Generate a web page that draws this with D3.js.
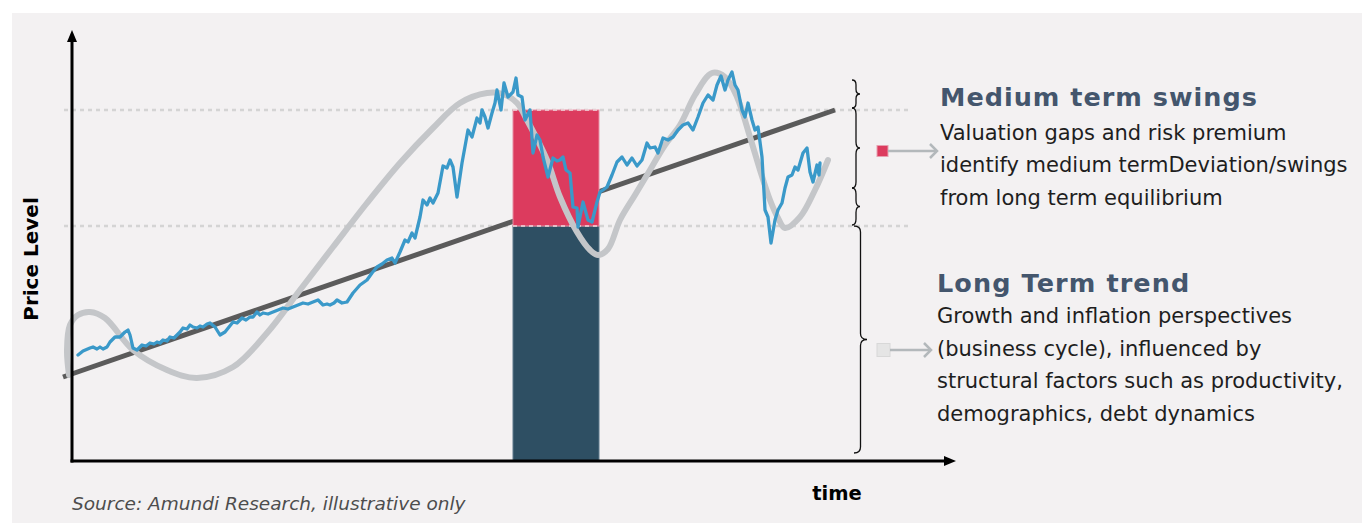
<!DOCTYPE html>
<html>
<head>
<meta charset="utf-8">
<script src="https://cdn.jsdelivr.net/npm/d3@7"></script>
<style>
  html, body { margin: 0; padding: 0; background: #ffffff; }
  svg { display: block; }
</style>
</head>
<body>
<div id="chart"></div>
<script>
// --- data (time / price units measured from the axes origin) ---
const levels = [235, 351];                  // dotted guide levels
const trendLine = [[-9, 84], [763, 351]];   // long term trend
const swingSpan = [441, 527];               // highlighted time window
const cycleCurve = [
  [-3, 86], [-5, 111], [-2, 136], [6, 146], [18, 149], [33, 143], [61, 111], [95, 91],
  [125, 83], [161, 94], [195, 128], [228, 171], [261, 214], [295, 258], [328, 298],
  [361, 333], [388, 358], [415, 368], [431, 367], [445, 358], [455, 341], [475, 301],
  [488, 264], [505, 229], [518, 211], [526, 206], [536, 212], [548, 241], [563, 266],
  [578, 291], [593, 316], [608, 336], [623, 366], [640, 388], [653, 384], [665, 364],
  [678, 324], [688, 291], [698, 261], [706, 243], [713, 233], [728, 244], [743, 271], [756, 301]
];
const priceSeries = [
  [6, 106], [11, 110], [18, 113], [21, 114], [25, 112], [28, 114], [31, 112], [35, 114],
  [38, 119], [43, 124], [48, 124], [53, 129], [56, 131], [58, 126], [61, 113], [65, 111],
  [70, 116], [74, 115], [78, 118], [82, 117], [85, 119], [88, 118], [91, 121], [95, 120],
  [98, 124], [102, 123], [105, 126], [108, 129], [111, 133], [115, 132], [118, 136],
  [121, 134], [125, 133], [128, 135], [131, 134], [135, 137], [138, 138], [143, 134],
  [148, 126], [153, 129], [157, 134], [161, 139], [165, 138], [170, 143], [174, 141],
  [178, 144], [181, 144], [185, 149], [188, 146], [191, 148], [196, 147], [201, 149],
  [206, 151], [211, 153], [216, 152], [221, 154], [226, 156], [231, 158], [236, 157],
  [241, 159], [246, 161], [251, 156], [255, 157], [258, 156], [262, 158], [265, 161],
  [270, 158], [275, 159], [281, 168], [288, 176], [295, 181], [300, 188], [305, 194],
  [310, 197], [315, 201], [320, 203], [323, 198], [328, 209], [333, 221], [336, 219],
  [340, 228], [343, 223], [348, 244], [351, 261], [355, 256], [358, 263], [361, 258],
  [366, 268], [371, 295], [375, 293], [378, 301], [381, 294], [385, 264], [390, 298],
  [396, 331], [400, 324], [405, 343], [408, 338], [410, 351], [413, 344], [416, 333],
  [420, 348], [423, 358], [425, 371], [429, 351], [432, 378], [436, 364], [441, 369],
  [444, 383], [446, 366], [450, 364], [453, 341], [458, 351], [461, 308], [465, 326],
  [468, 321], [471, 304], [476, 284], [481, 303], [485, 300], [488, 301], [491, 304],
  [494, 291], [498, 288], [501, 254], [505, 253], [506, 234], [511, 259], [516, 241],
  [520, 239], [525, 259], [528, 269], [531, 271], [535, 274], [540, 286], [545, 299],
  [550, 304], [555, 296], [560, 303], [565, 295], [570, 301], [575, 318], [578, 313],
  [583, 314], [586, 308], [591, 323], [596, 321], [601, 324], [606, 331], [611, 336],
  [616, 338], [621, 331], [626, 344], [631, 358], [636, 366], [641, 361], [645, 376],
  [649, 385], [653, 371], [656, 381], [660, 389], [663, 376], [666, 371], [670, 351],
  [673, 344], [676, 358], [680, 341], [683, 331], [686, 334], [690, 304], [693, 251],
  [696, 244], [699, 218], [703, 241], [706, 251], [710, 258], [713, 273], [716, 284],
  [720, 286], [723, 294], [726, 291], [731, 308], [735, 313], [738, 289], [741, 279],
  [745, 296], [747, 286], [748, 298]
];
// brace spans in price units: [top, bottom]
const braceSpans = [[381, 353], [353, 273], [273, 236], [235, 8]];

const titles = ["Medium term swings", "Long Term trend"];
const mediumText = ["Valuation gaps and risk premium", "identify medium termDeviation/swings", "from long term equilibrium"];
const longText = ["Growth and inflation perspectives", "(business cycle), influenced by", "structural factors such as productivity,", "demographics, debt dynamics"];

// --- palette ---
const colors = {
  panel: '#f3f1f2',
  axis: '#000000',
  grid: '#d4d4d4',
  trend: '#5b5b5b',
  cycle: '#c4c6c9',
  price: '#3a99c9',
  swing: '#dc3b5e',
  base: '#2e4f63',
  title: '#44566d',
  body: '#1e1e1e',
  arrow: '#b3b8bb'
};

const width = 1362, height = 523;
const svg = d3.select("#chart").append("svg")
  .attr("width", width).attr("height", height);

svg.append("rect").attr("x", 12).attr("y", 13).attr("width", width - 12).attr("height", height - 13)
  .attr("fill", colors.panel);

const x = d3.scaleLinear().domain([0, 883]).range([72, 955]);
const y = d3.scaleLinear().domain([0, 430]).range([461, 31]);

// guide levels
svg.append("g").selectAll("line").data(levels).join("line")
  .attr("x1", x(-8)).attr("x2", x(840))
  .attr("y1", d => y(d)).attr("y2", d => y(d))
  .attr("stroke", colors.grid).attr("stroke-width", 2.5).attr("stroke-dasharray", "4,4");

// trend
svg.append("line")
  .attr("x1", x(trendLine[0][0])).attr("y1", y(trendLine[0][1]))
  .attr("x2", x(trendLine[1][0])).attr("y2", y(trendLine[1][1]))
  .attr("stroke", colors.trend).attr("stroke-width", 5);

// swing window
svg.append("rect")
  .attr("x", x(swingSpan[0])).attr("width", x(swingSpan[1]) - x(swingSpan[0]))
  .attr("y", y(levels[0])).attr("height", y(0) - y(levels[0]))
  .attr("fill", colors.base).attr("stroke", "#5f7a8c").attr("stroke-width", 1);
svg.append("rect")
  .attr("x", x(swingSpan[0])).attr("width", x(swingSpan[1]) - x(swingSpan[0]))
  .attr("y", y(levels[1])).attr("height", y(levels[0]) - y(levels[1]))
  .attr("fill", colors.swing).attr("stroke", "#e88ea2").attr("stroke-width", 1);

// dotted levels over the window
svg.append("g").selectAll("line").data(levels).join("line")
  .attr("x1", x(swingSpan[0])).attr("x2", x(swingSpan[1]))
  .attr("y1", d => y(d)).attr("y2", d => y(d))
  .attr("stroke", "#f0d6dc").attr("stroke-width", 1.5).attr("stroke-dasharray", "4,4");

// cycle curve
const smooth = d3.line().x(d => x(d[0])).y(d => y(d[1])).curve(d3.curveCatmullRom.alpha(0.5));
svg.append("path").attr("d", smooth(cycleCurve))
  .attr("fill", "none").attr("stroke", colors.cycle).attr("stroke-width", 6).attr("stroke-linecap", "round");

// price series
const jag = d3.line().x(d => x(d[0])).y(d => y(d[1]));
svg.append("path").attr("d", jag(priceSeries))
  .attr("fill", "none").attr("stroke", colors.price).attr("stroke-width", 3.3)
  .attr("stroke-linejoin", "round").attr("stroke-linecap", "round");

// axes with arrows
svg.append("line").attr("x1", x(0)).attr("x2", x(0)).attr("y1", y(0) + 1.5).attr("y2", y(420))
  .attr("stroke", colors.axis).attr("stroke-width", 3);
svg.append("path")
  .attr("d", `M${x(0) - 5},${y(419)} L${x(0)},${y(431)} L${x(0) + 5},${y(419)} Z`)
  .attr("fill", colors.axis);
svg.append("line").attr("x1", x(0) - 1.5).attr("x2", x(873)).attr("y1", y(0)).attr("y2", y(0))
  .attr("stroke", colors.axis).attr("stroke-width", 3);
svg.append("path")
  .attr("d", `M${x(872)},${y(0) - 5} L${x(884)},${y(0)} L${x(872)},${y(0) + 5} Z`)
  .attr("fill", colors.axis);

// braces
function bracePath(bx, y0, y1, w) {
  const ym = (y0 + y1) / 2, q = Math.min(6, (y1 - y0) / 6), h = w / 2;
  return `M${bx},${y0} Q${bx + h},${y0} ${bx + h},${y0 + q} L${bx + h},${ym - q} Q${bx + h},${ym} ${bx + w},${ym}` +
         ` Q${bx + h},${ym} ${bx + h},${ym + q} L${bx + h},${y1 - q} Q${bx + h},${y1} ${bx},${y1}`;
}
svg.append("g").selectAll("path").data(braceSpans).join("path")
  .attr("d", (d, i) => i < 3 ? bracePath(852, y(d[0]), y(d[1]), 8) : bracePath(854, y(d[0]), y(d[1]), 13))
  .attr("fill", "none").attr("stroke", "#111").attr("stroke-width", 1.3);

// legend markers + arrows
function marker(my, fill, stroke, x0, w, xEnd) {
  svg.append("rect").attr("x", x0).attr("y", my - w / 2).attr("width", w).attr("height", w)
    .attr("fill", fill).attr("stroke", stroke).attr("stroke-width", 1);
  svg.append("line").attr("x1", x0 + w).attr("x2", xEnd).attr("y1", my).attr("y2", my)
    .attr("stroke", colors.arrow).attr("stroke-width", 2.5);
  svg.append("path").attr("d", `M${xEnd - 7},${my - 7} L${xEnd},${my} L${xEnd - 7},${my + 7}`)
    .attr("fill", "none").attr("stroke", colors.arrow).attr("stroke-width", 2.5);
}
marker(151, colors.swing, "#e7a0b0", 877, 11, 937);
marker(350, "#e5e5e5", "#d8d8d8", 877, 13, 931);

// text
const font = "'DejaVu Sans', sans-serif";
svg.append("text").attr("x", 940).attr("y", 106).text(titles[0])
  .attr("font-family", font).attr("font-weight", 700).attr("font-size", 25.5)
  .attr("fill", colors.title).attr("letter-spacing", 1);
svg.append("g").selectAll("text").data(mediumText).join("text")
  .attr("x", 940).attr("y", (d, i) => 140 + i * 32.3).text(d => d)
  .attr("font-family", font).attr("font-size", 21).attr("fill", colors.body);
svg.append("text").attr("x", 937).attr("y", 292).text(titles[1])
  .attr("font-family", font).attr("font-weight", 700).attr("font-size", 25.5)
  .attr("fill", colors.title).attr("letter-spacing", 1.1);
svg.append("g").selectAll("text").data(longText).join("text")
  .attr("x", 937).attr("y", (d, i) => 323 + i * 32.6).text(d => d)
  .attr("font-family", font).attr("font-size", 21).attr("fill", colors.body);

svg.append("text").attr("transform", "translate(38,259) rotate(-90)")
  .attr("text-anchor", "middle").text("Price Level")
  .attr("font-family", font).attr("font-weight", 700).attr("font-size", 20).attr("fill", "#000");
svg.append("text").attr("x", 837).attr("y", 500).attr("text-anchor", "middle").text("time")
  .attr("font-family", font).attr("font-weight", 700).attr("font-size", 19.5).attr("fill", "#000");
svg.append("text").attr("x", 72).attr("y", 510).text("Source: Amundi Research, illustrative only")
  .attr("font-family", font).attr("font-style", "italic").attr("font-size", 18.5).attr("fill", "#4d4d4d");
</script>
</body>
</html>
